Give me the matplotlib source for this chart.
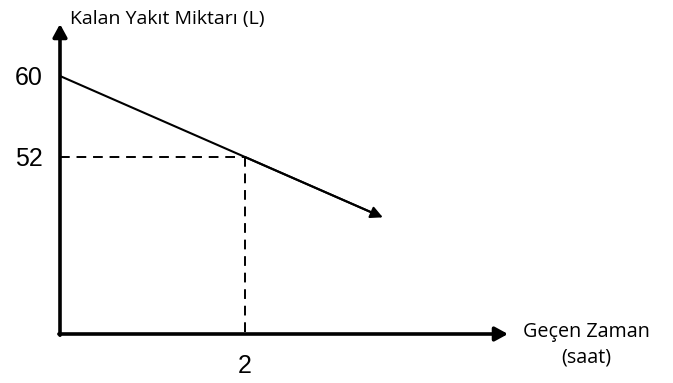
import matplotlib
matplotlib.use("Agg")
import matplotlib.pyplot as plt

# Data
time_points = [0, 2, 3.49]          # Geçen Zaman (saat)
fuel_points = [60, 52, 46.04]       # Kalan Yakıt Miktarı (L)
marked_time = 2
marked_fuel = 52
y_tick_values = [60, 52]
y_tick_labels = ["60", "52"]
x_tick_values = [2]
x_tick_labels = ["2"]
x_label = "Geçen Zaman\n(saat)"
y_label = "Kalan Yakıt Miktarı (L)"

W, H = 673, 383
fig = plt.figure(figsize=(W / 100, H / 100), dpi=100)
ax = fig.add_axes([0, 0, 1, 1])
ax.set_axis_off()

# pixel -> data mapping
x0px, xs = 60, 92.5
y60px, ys = 76, 10.125
ax.set_xlim(-x0px / xs, (W - x0px) / xs)
ax.set_ylim(60 - (H - y60px) / ys, 60 + y60px / ys)

y_axis_base = 60 - (334 - y60px) / ys
y_axis_top = 60 + (y60px - 24) / ys
x_axis_end = (508 - x0px) / xs

label_font = "Open Sans"
num_font = "Liberation Sans"

axis_arrow = dict(arrowstyle="-|>,head_length=0.55,head_width=0.3",
                  lw=2.6, color="black", shrinkA=0, shrinkB=0,
                  mutation_scale=14)
ax.annotate("", xy=(x_axis_end, y_axis_base), xytext=(-0.012, y_axis_base),
            arrowprops=axis_arrow)
ax.annotate("", xy=(0, y_axis_top), xytext=(0, y_axis_base - 0.12),
            arrowprops=axis_arrow)

# data line with arrow
ax.plot(time_points[:-1] + [time_points[-1] - 0.08],
        fuel_points[:-1] + [fuel_points[-1] + 0.32], color="black", lw=1.5,
        solid_capstyle="butt")
ax.annotate("", xy=(time_points[-1], fuel_points[-1]),
            xytext=(time_points[-2], fuel_points[-2]),
            arrowprops=dict(arrowstyle="-|>,head_length=0.6,head_width=0.3",
                            lw=1.5, color="black", shrinkA=0, shrinkB=0,
                            mutation_scale=12))

# dashed guides
ax.plot([0, marked_time], [marked_fuel, marked_fuel], color="black", lw=1.4,
        dashes=(5, 3.5))
ax.plot([marked_time, marked_time], [marked_fuel, y_axis_base], color="black",
        lw=1.4, dashes=(5, 3.5))

# tick labels
for v, lab in zip(y_tick_values, y_tick_labels):
    ax.text(-17 / xs, v - 1.5 / ys, lab, ha="right", va="center",
            fontsize=18, family=num_font)
for v, lab in zip(x_tick_values, x_tick_labels):
    ax.text(v, 60 - (366 - y60px) / ys, lab, ha="center", va="center",
            fontsize=18, family=num_font)

# axis labels
ax.text((70 - x0px) / xs, 60 + (y60px - 19) / ys, y_label, ha="left",
        va="center", fontsize=14, family=label_font)
ax.text((586 - x0px) / xs, 60 - (345 - y60px) / ys, x_label, ha="center",
        va="center", fontsize=14.2, family=label_font, linespacing=1.38,
        multialignment="center")

fig.savefig("out.png", dpi=100)
